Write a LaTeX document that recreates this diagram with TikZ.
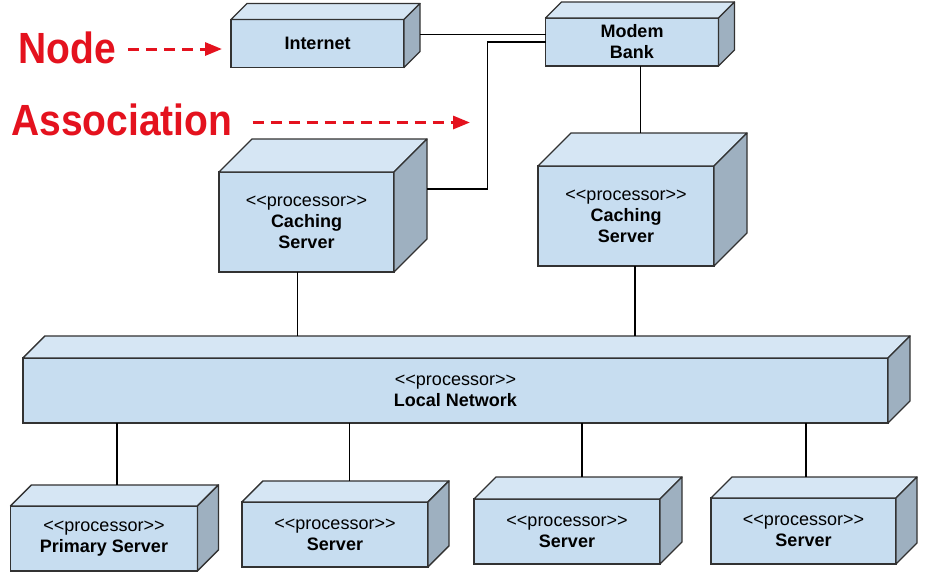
\documentclass[tikz,border=0pt]{standalone}
\usepackage{fontspec}
\setmainfont{Liberation Sans}[Ligatures=TeXOff]
\usetikzlibrary{calc, arrows.meta}

\definecolor{boxfront}{RGB}{199,221,240}
\definecolor{boxtop}{RGB}{214,230,244}
\definecolor{boxside}{RGB}{158,176,192}
\definecolor{boxline}{RGB}{50,50,50}
\definecolor{notered}{RGB}{228,18,30}

\newcommand{\procst}{\textless\textless processor\textgreater\textgreater}

\begin{document}
\begin{tikzpicture}[x=1pt, y=-1pt, >=latex, font=\fontsize{18}{21}\selectfont]
	\tikzstyle{front} = [draw=boxline, fill=boxfront, line width=1.3pt, rectangle, inner sep=0pt, outer sep=0pt, align=center]
	\tikzstyle{topface} = [draw=boxline, fill=boxtop, line width=1.3pt, line join=round]
	\tikzstyle{sideface} = [draw=boxline, fill=boxside, line width=1.3pt, line join=round]
	\tikzstyle{wire} = [line width=1.8pt, black]
	\tikzstyle{note} = [text=notered, font=\fontsize{39}{39}\selectfont\bfseries, inner sep=0pt]
	\tikzstyle{pointer} = [draw=notered, line width=3pt, dash pattern=on 11pt off 7pt, -{Triangle[length=17pt, width=13pt]}]

	\useasboundingbox (0, 0) rectangle (939, 584);

	\node[front, minimum width=173pt, minimum height=48pt] at (317.5, 43.5) (inet) {\textbf{Internet}};
	\node[front, minimum width=173pt, minimum height=48pt] at (632, 42) (modem) {\textbf{Modem}\\\textbf{Bank}};
	\node[front, minimum width=175pt, minimum height=100pt] at (306.5, 222) (cacheA) {\procst\\\textbf{Caching}\\\textbf{Server}};
	\node[front, minimum width=176pt, minimum height=100pt] at (626, 216) (cacheB) {\procst\\\textbf{Caching}\\\textbf{Server}};
	\node[front, minimum width=865pt, minimum height=65pt] at (455.5, 390.4) (lan) {\procst\\\textbf{Local Network}};
	\node[front, minimum width=187pt, minimum height=65pt] at (104, 538.4) (srvA) {\procst\\\textbf{Primary Server}};
	\node[front, minimum width=186pt, minimum height=65pt] at (335, 534.4) (srvB) {\procst\\\textbf{Server}};
	\node[front, minimum width=186pt, minimum height=65pt] at (567, 531.5) (srvC) {\procst\\\textbf{Server}};
	\node[front, minimum width=185pt, minimum height=66pt] at (803.5, 531) (srvD) {\procst\\\textbf{Server}};

	% top and side faces
	\foreach \n/\d in {inet/16, modem/16, cacheA/33, cacheB/33, lan/22, srvA/21, srvB/21, srvC/22, srvD/21}
	{
		\filldraw[topface] (\n.north west) -- ++(\d, -\d) -- ($(\n.north east) + (\d, -\d)$) -- (\n.north east) -- cycle;
		\filldraw[sideface] (\n.north east) -- ++(\d, -\d) -- ($(\n.south east) + (\d, -\d)$) -- (\n.south east) -- cycle;
		\coordinate (\n-back) at ($(\n.north) + (\d, -\d)$);
	}

	% associations
	\draw[wire] ([xshift=16pt, yshift=9pt]inet.east) -- ([yshift=7.5pt]modem.west);
	\draw[wire] (modem.west) -- ++(-58, 0) |- ([xshift=33pt, yshift=33pt]cacheA.east);
	\draw[wire] ([xshift=8.5pt]modem.south) -- ([xshift=8.5pt]modem.south |- cacheB-back);
	\draw[wire] ([xshift=-9pt]cacheA.south) -- ([xshift=-9pt]cacheA.south |- lan-back);
	\draw[wire] ([xshift=8.7pt]cacheB.south) -- ([xshift=8.7pt]cacheB.south |- lan-back);
	\foreach \s/\o in {srvA/-8, srvB/-6.5, srvC/-7, srvD/-18.5}
		\draw[wire] ([xshift=\o pt]\s-back) -- ([xshift=\o pt]\s-back |- lan.south);

	% annotations
	\node[note] at (67, 47.5) (nodelbl) {\scalebox{1}[1.12]{Node}};
	\node[note] at (121.8, 119.5) (assoclbl) {\scalebox{1}[1.12]{Association}};
	\coordinate (nodetip) at (222, 49);
	\coordinate (assoctip) at (470, 122.5);
	\draw[pointer] ([xshift=12pt, yshift=-1.5pt]nodelbl.east) -- (nodetip);
	\draw[pointer] ([xshift=20pt, yshift=-3pt]assoclbl.east) -- (assoctip);
\end{tikzpicture}
\end{document}
